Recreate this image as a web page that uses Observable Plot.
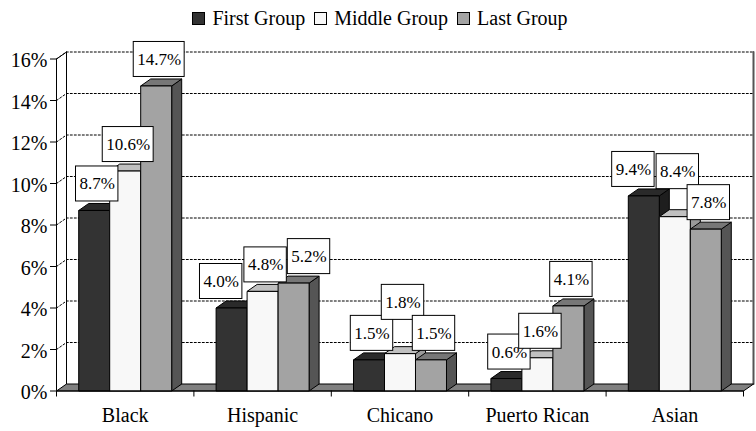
<!DOCTYPE html>
<html><head><meta charset="utf-8">
<script src="https://cdn.jsdelivr.net/npm/d3@7"></script>
<script src="https://cdn.jsdelivr.net/npm/@observablehq/plot@0.6"></script>
<style>
body{margin:0;background:#fff;font-family:"Liberation Serif","Times New Roman","Tinos","Nimbus Roman","DejaVu Serif","Noto Serif",serif;}
#legend{height:36px;display:flex;justify-content:center;align-items:center;font-size:20px;color:#000;gap:9px;padding-left:4px;box-sizing:border-box}
.item{display:flex;align-items:center;gap:7px}
.sw{width:11px;height:11px;border:1px solid #000;margin-top:1px}
#chart svg{display:block}
</style></head><body>
<div id="legend"></div><div id="chart"></div>
<script>
// ---- data ----
const categories = ["Black", "Hispanic", "Chicano", "Puerto Rican", "Asian"];
const seriesNames = ["First Group", "Middle Group", "Last Group"];
const firstGroup = [8.7, 4.0, 1.5, 0.6, 9.4];
const middleGroup = [10.6, 4.8, 1.8, 1.6, 8.4];
const lastGroup = [14.7, 5.2, 1.5, 4.1, 7.8];
const yTicks = [0, 2, 4, 6, 8, 10, 12, 14, 16];

// ---- styles ----
const seriesValues = [firstGroup, middleGroup, lastGroup];
const faceColors = [
  {front: "#333333", top: "#2a2a2a", side: "#1e1e1e"},
  {front: "#f8f8f8", top: "#c0c0c0", side: "#9a9a9a"},
  {front: "#a3a3a3", top: "#777777", side: "#555555"}
];
const FONT = "'Liberation Serif', 'Times New Roman', Tinos, 'Nimbus Roman', 'DejaVu Serif', 'Noto Serif', serif";

// legend
const legend = document.getElementById("legend");
seriesNames.forEach((name, j) => {
  const it = document.createElement("div"); it.className = "item";
  const sw = document.createElement("div"); sw.className = "sw"; sw.style.background = faceColors[j].front;
  const tx = document.createElement("span"); tx.textContent = name;
  it.append(sw, tx); legend.append(it);
});

// ---- layout ----
const W = 756, H = 395, mL = 56, mR = 13, mT = 22.5, mB = 40.5;
const nCat = categories.length, yMax = yTicks[yTicks.length - 1];
const pxX = (W - mL - mR) / nCat, pxY = (H - mT - mB) / yMax;
const ddx = 10 / pxX, ddy = 7 / pxY;          // 3-D depth in data units
const barW = 0.2256, groupStart = (1 - 3 * barW) / 2;
const xPx = u => mL + u * pxX, yPx = v => mT + (yMax - v) * pxY;
const ux = p => (p - mL) / pxX, uy = p => yMax - (p - mT) / pxY;

// polygons (painter's order)
const polys = [];
const poly = (id, fill, pts) => pts.forEach(([x, y]) => polys.push({id, fill, x, y}));
poly("floor", "#808080", [[0, 0], [nCat, 0], [nCat + ddx, ddy], [ddx, ddy]]);
const bars = [];
categories.forEach((c, i) => {
  seriesValues.forEach((vals, j) => {
    const v = vals[i], x1 = i + groupStart + j * barW, x2 = x1 + barW, fc = faceColors[j];
    bars.push({i, j, v, x1, x2});
    poly(`s${i}${j}`, fc.side, [[x2, 0], [x2 + ddx, ddy], [x2 + ddx, v + ddy], [x2, v]]);
    poly(`t${i}${j}`, fc.top, [[x1, v], [x2, v], [x2 + ddx, v + ddy], [x1 + ddx, v + ddy]]);
    poly(`f${i}${j}`, fc.front, [[x1, 0], [x2, 0], [x2, v], [x1, v]]);
  });
});

// gridlines on left wall + back wall
const gridPts = [];
yTicks.filter(v => v > 0).forEach(v => {
  gridPts.push({v, x: 0, y: v}, {v, x: ddx, y: v + ddy}, {v, x: nCat + ddx, y: v + ddy});
});

// ---- data labels (boxes), laid out in pixel space ----
const ctx = document.createElement("canvas").getContext("2d");
ctx.font = `17px ${FONT}`;
const fmt = v => v.toFixed(1) + "%";
const boxH = 35, padX = 3.5, tol = 4;
const labels = bars.map(b => {
  const text = fmt(b.v), w = ctx.measureText(text).width + 2 * padX;
  const cx = xPx((b.x1 + b.x2) / 2) + 3, bottom = yPx(b.v) - 9;
  return {...b, text, w, cx, bottom, top: bottom - boxH};
});
const L = l => l.cx - l.w / 2, R = l => l.cx + l.w / 2;
const overlaps = (a, b) => (Math.min(R(a), R(b)) - Math.max(L(a), L(b)) > 0) &&
  (Math.min(a.bottom, b.bottom) - Math.max(a.top, b.top) > 15);
const lift = (l, bottom) => { l.bottom = bottom; l.top = bottom - boxH; };
categories.forEach((c, i) => {
  const [A, B, C] = labels.filter(l => l.i === i);
  const oa = overlaps(A, B), oc = overlaps(B, C);
  if (B.v >= Math.max(A.v, C.v) && (oa || oc)) {
    lift(B, Math.min(oa ? A.top : Infinity, oc ? C.top : Infinity) + tol);
  } else {
    if (oc) {
      if (C.v < B.v) lift(B, C.top + tol);
      else C.cx = R(B) + 1 + C.w / 2;
    }
    if (overlaps(A, B)) A.cx = L(B) - 2 - A.w / 2;
  }
});
const labelMarks = labels.flatMap(l => [
  Plot.rect([l], {x1: d => ux(L(d)), x2: d => ux(R(d)), y1: d => uy(d.bottom), y2: d => uy(d.top),
    fill: "#fff", stroke: "#000", strokeWidth: 1}),
  Plot.text([l], {x: d => ux(d.cx), y: d => uy((d.top + d.bottom) / 2), text: "text",
    fontSize: 17, fontFamily: FONT, fill: "#000"})
]);

const chart = Plot.plot({
  width: W, height: H, marginLeft: mL, marginRight: mR, marginTop: mT, marginBottom: mB,
  style: {fontFamily: FONT, background: "#fff", color: "#000"},
  x: {domain: [0, nCat], axis: null},
  y: {domain: [0, yMax], axis: null},
  color: {type: "identity"},
  marks: [
    // walls
    Plot.line(gridPts, {x: "x", y: "y", z: "v", stroke: "#000", strokeWidth: 1, strokeDasharray: "2,2"}),
    Plot.line([[0, yMax], [ddx, yMax + ddy]], {x: d => d[0], y: d => d[1], stroke: "#000", strokeWidth: 1}),
    Plot.line([[ddx, ddy], [ddx, yMax + ddy]], {x: d => d[0], y: d => d[1], stroke: "#000", strokeWidth: 1}),
    Plot.line([[nCat + ddx, ddy], [nCat + ddx, yMax + ddy]], {x: d => d[0], y: d => d[1], stroke: "#555", strokeWidth: 2}),
    // floor and bars
    Plot.line(polys, {x: "x", y: "y", z: "id", fill: "fill", stroke: "#000", strokeWidth: 1,
      curve: "linear-closed", strokeLinejoin: "miter", strokeLinecap: "butt"}),
    // axes
    Plot.ruleX([0], {y1: 0, y2: yMax, stroke: "#000"}),
    Plot.ruleY([0], {x1: 0, x2: nCat, stroke: "#000"}),
    Plot.axisY({ticks: yTicks, tickFormat: () => "", tickSize: 6, stroke: "#000", label: null}),
    Plot.text(yTicks, {x: 0, y: d => d, text: d => d + "%", textAnchor: "end", dx: -9, dy: 2, fontSize: 20, fontFamily: FONT, fill: "#000"}),
    Plot.axisX({ticks: d3.range(nCat + 1), tickFormat: () => "", tickSize: 6, stroke: "#000", label: null}),
    Plot.text(categories, {x: (d, i) => i + 0.5, y: () => 0, text: d => d, dy: 25, fontSize: 20, fontFamily: FONT, fill: "#000"}),
    ...labelMarks
  ]
});
document.getElementById("chart").append(chart);
</script>
</body></html>
